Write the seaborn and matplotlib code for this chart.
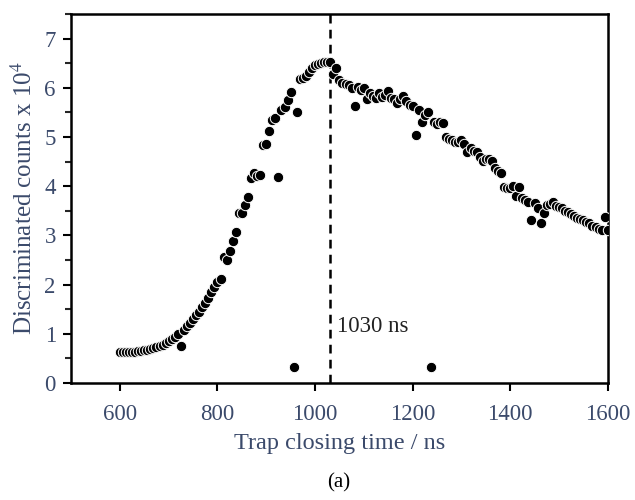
# Trap closing time scan - discriminated counts

import numpy as np
import pandas as pd
import matplotlib
matplotlib.use('Agg')
import matplotlib.pyplot as plt
from matplotlib.ticker import MultipleLocator
import seaborn as sns

# Data (time step ~6.25 ns)
trap_time = np.linspace(600, 1600, 161)
counts = [
    0.62, 0.62, 0.63, 0.63, 0.64, 0.64, 0.65, 0.66, 0.67, 0.68,
    0.69, 0.71, 0.73, 0.75, 0.78, 0.81, 0.85, 0.89, 0.94, 0.99,
    0.75, 1.08, 1.15, 1.22, 1.30, 1.38, 1.45, 1.55, 1.62, 1.72,
    1.85, 1.95, 2.05, 2.11, 2.56, 2.49, 2.68, 2.88, 3.06, 3.45,
    3.45, 3.62, 3.79, 4.16, 4.26, 4.20, 4.22, 4.83, 4.85, 5.12,
    5.35, 5.38, 4.18, 5.55, 5.60, 5.76, 5.92, 0.32, 5.50, 6.18,
    6.20, 6.25, 6.33, 6.41, 6.46, 6.49, 6.51, 6.52, 6.53, 6.53,
    6.28, 6.41, 6.15, 6.10, 6.08, 6.05, 6.00, 5.62, 6.02, 5.95,
    6.00, 5.78, 5.90, 5.84, 5.80, 5.90, 5.82, 5.85, 5.94, 5.80,
    5.78, 5.70, 5.78, 5.84, 5.74, 5.66, 5.62, 5.05, 5.55, 5.31,
    5.45, 5.50, 0.32, 5.31, 5.27, 5.30, 5.29, 4.99, 4.95, 4.93,
    4.90, 4.89, 4.93, 4.85, 4.69, 4.77, 4.72, 4.69, 4.60, 4.52,
    4.56, 4.55, 4.52, 4.36, 4.30, 4.26, 3.98, 3.96, 3.96, 4.00,
    3.81, 3.98, 3.77, 3.71, 3.68, 3.31, 3.65, 3.55, 3.25, 3.45,
    3.61, 3.64, 3.67, 3.60, 3.57, 3.55, 3.50, 3.47, 3.43, 3.40,
    3.35, 3.33, 3.31, 3.27, 3.25, 3.20, 3.17, 3.14, 3.10, 3.37,
    3.10,
]
peak_time = 1030
peak_label = '1030 ns'
x_ticks = [600, 800, 1000, 1200, 1400, 1600]
y_ticks = [0, 1, 2, 3, 4, 5, 6, 7]

df = pd.DataFrame({'time': trap_time, 'counts': counts})

sns.set_style('ticks')
plt.rcParams['font.family'] = ['Liberation Serif', 'DejaVu Serif']
plt.rcParams['mathtext.fontset'] = 'stix'

label_color = '#3b4a6b'

fig = plt.figure(figsize=(6.35, 5.0), dpi=100)
ax = fig.add_axes([0.112, 0.234, 0.845, 0.738])

sns.scatterplot(data=df, x='time', y='counts', ax=ax, color='black',
                edgecolor='white', linewidth=0.7, s=56, zorder=3)

ax.axvline(peak_time, color='black', linestyle=(0, (3.5, 2.5)), linewidth=1.8, zorder=2)
ax.text(peak_time + 16, 1.15, peak_label, fontsize=16.5, color='#222222', va='center', ha='left')

ax.set_xlim(500, 1600)
ax.set_ylim(0, 7.5)
ax.set_xticks(x_ticks)
ax.set_yticks(y_ticks)
ax.yaxis.set_minor_locator(MultipleLocator(0.5))

ax.set_xlabel('Trap closing time / ns', fontsize=17.5, color=label_color, labelpad=6)
ax.set_ylabel('Discriminated counts x 10$^4$', fontsize=18, color=label_color, labelpad=5)

ax.tick_params(axis='both', which='major', direction='out', length=6, width=1.5,
               labelsize=16.5, labelcolor=label_color, color='black')
ax.tick_params(axis='x', which='major', pad=9)
ax.tick_params(axis='y', which='major', pad=5)
ax.tick_params(axis='y', which='minor', direction='out', length=4, width=1.5)
ax.tick_params(axis='x', which='minor', length=0)
for side in ['top', 'right', 'left', 'bottom']:
    ax.spines[side].set_visible(True)
    ax.spines[side].set_linewidth(1.8)
    ax.spines[side].set_color('black')

fig.text(0.534, 0.034, '(a)', fontsize=15, ha='center', va='center', color='black')

fig.savefig('out.png', dpi=100)
